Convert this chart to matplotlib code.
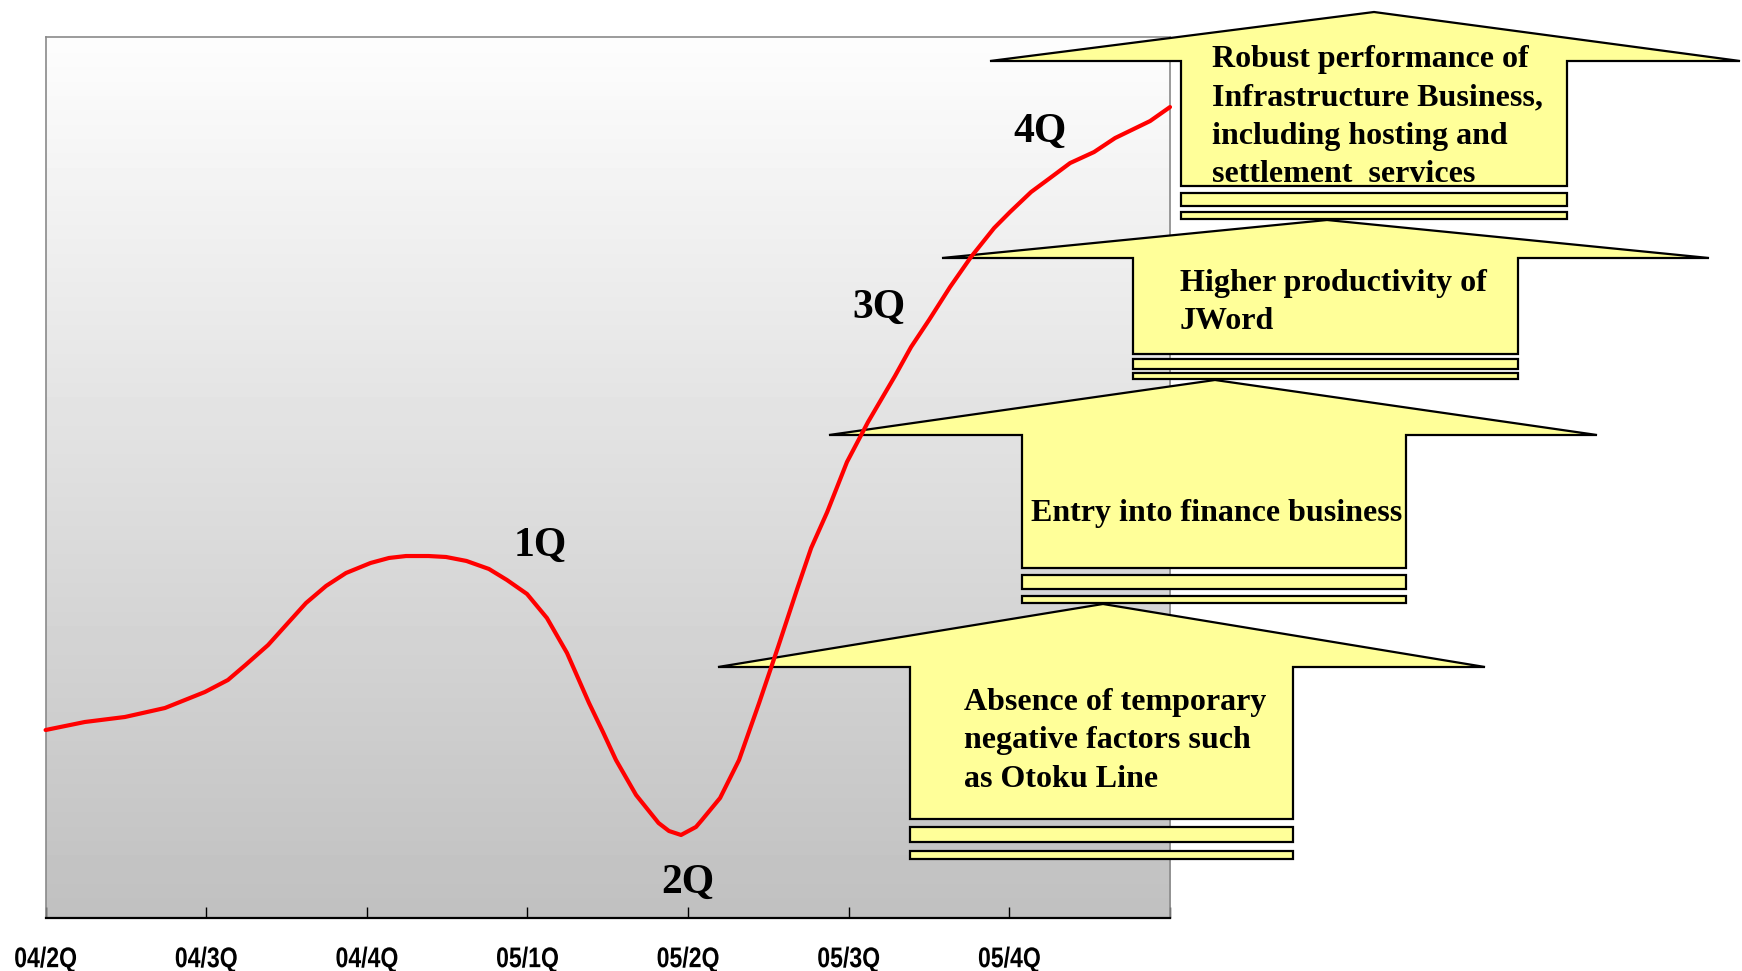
import numpy as np
import matplotlib
matplotlib.use("Agg")
import matplotlib.pyplot as plt
from matplotlib.patches import Polygon, Rectangle
from matplotlib.patheffects import AbstractPathEffect
from matplotlib.transforms import Affine2D

# ---- data -------------------------------------------------------------
quarters = ["04/2Q", "04/3Q", "04/4Q", "05/1Q", "05/2Q", "05/3Q", "05/4Q"]

# profit trend (index, quarter position on x)
trend_x = [0.000, 0.244, 0.494, 0.743, 0.992, 1.135, 1.244, 1.385, 1.503, 1.621,
           1.746, 1.870, 2.023, 2.138, 2.244, 2.384, 2.493, 2.620, 2.760, 2.872,
           2.997, 3.121, 3.246, 3.383, 3.470, 3.551, 3.676, 3.816, 3.881, 3.956,
           4.049, 4.086, 4.199, 4.317, 4.442, 4.560, 4.679, 4.766, 4.866, 4.989,
           5.120, 5.288, 5.388, 5.500, 5.631, 5.761, 5.905, 6.004, 6.135, 6.253,
           6.378, 6.527, 6.658, 6.876, 7.000]
trend_y = [21.35, 22.26, 22.83, 23.85, 25.67, 27.03, 28.73, 31.00, 33.39, 35.77,
           37.71, 39.18, 40.32, 40.89, 41.11, 41.11, 41.00, 40.55, 39.64, 38.39,
           36.80, 34.07, 30.10, 24.42, 21.12, 17.94, 13.97, 10.79, 9.88, 9.43,
           10.34, 11.13, 13.63, 17.94, 24.42, 30.78, 37.37, 42.02, 46.11, 51.79,
           56.33, 61.56, 64.85, 67.92, 71.67, 75.07, 78.36, 80.18, 82.45, 84.04,
           85.74, 86.99, 88.58, 90.51, 92.10]

phase_labels = ["1Q", "2Q", "3Q", "4Q"]
phase_x = [3.078, 4.000, 5.188, 6.190]
phase_y = [41.1, 2.84, 68.1, 88.1]

drivers = [
    ["Absence of temporary", "negative factors such", "as Otoku Line"],
    ["Entry into finance business"],
    ["Higher productivity of", "JWord"],
    ["Robust performance of", "Infrastructure Business,",
     "including hosting and", "settlement  services"],
]


class Condensed(AbstractPathEffect):
    """Draw text narrowed horizontally about its own centre (narrow-face look)."""

    def __init__(self, sx=0.83):
        super().__init__()
        self.sx = sx

    def draw_path(self, renderer, gc, tpath, affine, rgbFace=None):
        ext = tpath.get_extents(affine)
        cx = 0.5 * (ext.x0 + ext.x1)
        squeeze = Affine2D().translate(-cx, 0).scale(self.sx, 1.0).translate(cx, 0)
        renderer.draw_path(gc, tpath, affine + squeeze, rgbFace)


# ---- figure -----------------------------------------------------------
W, H = 1742, 971
fig = plt.figure(figsize=(W / 100, H / 100), dpi=100)
fig.patch.set_facecolor("white")

left, right, top, bottom = 45.6, 1170.0, 37.5, 918.0
ax = fig.add_axes([left / W, (H - bottom) / H, (right - left) / W, (bottom - top) / H])
ax.set_facecolor("none")

# vertical gradient: near-white at the top, mid grey at the bottom
grad = np.linspace(253, 192, 256)[:, None] / 255.0
ax.imshow(np.repeat(grad, 2, axis=1), cmap="gray", vmin=0, vmax=1,
          extent=[0, 1, 0, 1], transform=ax.transAxes, aspect="auto",
          interpolation="bilinear", zorder=0)

ax.plot(trend_x, trend_y, color="#ff0000", lw=3.0, solid_joinstyle="round",
        solid_capstyle="round", zorder=6, clip_on=False)

ax.set_xlim(0, len(quarters))
ax.set_ylim(0, 100)
ax.set_xticks(range(len(quarters) + 1))
ax.set_xticklabels(quarters + [""])
ax.set_yticks([])
ax.tick_params(axis="x", direction="in", length=8, width=1.0, color="black", pad=21)
for lbl in ax.get_xticklabels():
    lbl.set_family(["Liberation Sans", "DejaVu Sans"])
    lbl.set_fontweight("bold")
    lbl.set_fontsize(20.5)
    lbl.set_path_effects([Condensed(0.81)])

for side in ("top", "left", "right"):
    ax.spines[side].set_color("#8a8a8a")
    ax.spines[side].set_linewidth(1.2)
ax.spines["bottom"].set_color("black")
ax.spines["bottom"].set_linewidth(1.6)

serif = ["Liberation Serif", "DejaVu Serif"]
for s, x, y in zip(phase_labels, phase_x, phase_y):
    ax.text(x, y, s, ha="center", va="baseline", fontsize=30, fontweight="bold",
            family=serif, color="black", zorder=7)

# ---- stacked up-arrows (pixel layout, top-left origin) ------------------
px = Affine2D().scale(1.0 / W, -1.0 / H).translate(0, 1) + fig.transFigure

# head_left, apex_x, apex_y, head_right, head_base, shaft_l, shaft_r, shaft_bottom,
# bar1 (top, bottom), bar2 (top, bottom), text_x, first baseline
arrow_geo = [
    (718, 1103, 604, 1485, 667, 910, 1293, 819, (827, 842), (851, 859), 964, 710),
    (829, 1215, 380, 1597, 435, 1022, 1406, 568, (575, 589), (596, 603), 1031, 521),
    (942, 1327, 220, 1709, 258, 1133, 1518, 354, (359, 369), (373, 379), 1180, 291),
    (990, 1374, 12, 1740, 61, 1181, 1567, 186, (193, 206), (212, 219), 1212, 67),
]
fill = "#ffff99"
for geo, lines in zip(arrow_geo, drivers):
    hl, axx, ayy, hr, hb, sl, sr, sb, b1, b2, tx, ty = geo
    pts = [(hl, hb), (axx, ayy), (hr, hb), (sr, hb), (sr, sb), (sl, sb), (sl, hb)]
    ax.add_patch(Polygon(pts, closed=True, facecolor=fill, edgecolor="black",
                         lw=1.6, joinstyle="miter", transform=px, clip_on=False,
                         zorder=4))
    for (t0, t1) in (b1, b2):
        ax.add_patch(Rectangle((sl, t0), sr - sl, t1 - t0, facecolor=fill,
                               edgecolor="black", lw=1.6, transform=px,
                               clip_on=False, zorder=4))
    for i, line in enumerate(lines):
        ax.text(tx, ty + i * 38.3, line, transform=px, ha="left", va="baseline",
                fontsize=23, fontweight="bold", family=serif, color="black",
                zorder=5)

fig.savefig("out.png", dpi=100, facecolor="white")
